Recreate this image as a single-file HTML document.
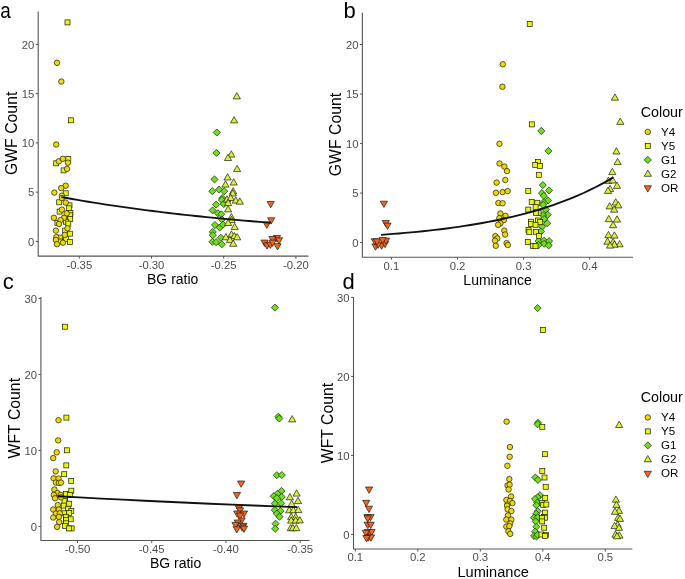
<!DOCTYPE html>
<html><head><meta charset="utf-8"><title>Figure</title>
<style>
html,body{margin:0;padding:0;background:#fff;}
body{width:685px;height:579px;overflow:hidden;}
svg{display:block;}
text{font-family:"Liberation Sans",sans-serif;}
svg{will-change:transform;}
.tk{font-size:11.3px;fill:#4d4d4d;}
.xt{font-size:14px;fill:#000;}
.yt{font-size:15.8px;fill:#000;}
.pl{font-size:22px;fill:#000;}
.lt{font-size:14.3px;fill:#000;stroke:none;}
.lg{font-size:11.6px;fill:#000;stroke:none;}
</style></head>
<body>
<svg width="685" height="579" viewBox="0 0 685 579">
<rect width="685" height="579" fill="#fff"/>
<path d="M38.2 11.4V256.1H308.4" fill="none" stroke="#555" stroke-width="1.1"/>
<line x1="35.7" y1="241.4" x2="38.2" y2="241.4" stroke="#555" stroke-width="1"/>
<text x="34.3" y="245.6" text-anchor="end" class="tk">0</text>
<line x1="35.7" y1="192.15" x2="38.2" y2="192.15" stroke="#555" stroke-width="1"/>
<text x="34.3" y="196.35" text-anchor="end" class="tk">5</text>
<line x1="35.7" y1="142.9" x2="38.2" y2="142.9" stroke="#555" stroke-width="1"/>
<text x="34.3" y="147.1" text-anchor="end" class="tk">10</text>
<line x1="35.7" y1="93.65" x2="38.2" y2="93.65" stroke="#555" stroke-width="1"/>
<text x="34.3" y="97.85" text-anchor="end" class="tk">15</text>
<line x1="35.7" y1="44.4" x2="38.2" y2="44.4" stroke="#555" stroke-width="1"/>
<text x="34.3" y="48.6" text-anchor="end" class="tk">20</text>
<line x1="79.3" y1="256.1" x2="79.3" y2="258.6" stroke="#555" stroke-width="1"/>
<text x="79.3" y="268.5" text-anchor="middle" class="tk">-0.35</text>
<line x1="151.5" y1="256.1" x2="151.5" y2="258.6" stroke="#555" stroke-width="1"/>
<text x="151.5" y="268.5" text-anchor="middle" class="tk">-0.30</text>
<line x1="223.7" y1="256.1" x2="223.7" y2="258.6" stroke="#555" stroke-width="1"/>
<text x="223.7" y="268.5" text-anchor="middle" class="tk">-0.25</text>
<line x1="295.9" y1="256.1" x2="295.9" y2="258.6" stroke="#555" stroke-width="1"/>
<text x="295.9" y="268.5" text-anchor="middle" class="tk">-0.20</text>
<g stroke="#1a1a1a" stroke-width="0.7"><polygon points="216.8,128.95 220.35,132.5 216.8,136.05 213.25,132.5" fill="#6CE314"/>
<polygon points="216.4,149.45 219.95,153 216.4,156.55 212.85,153" fill="#6CE314"/>
<polygon points="214.5,175.85 218.05,179.4 214.5,182.95 210.95,179.4" fill="#6CE314"/>
<polygon points="212.3,187.65 215.85,191.2 212.3,194.75 208.75,191.2" fill="#6CE314"/>
<polygon points="219.2,185.95 222.75,189.5 219.2,193.05 215.65,189.5" fill="#6CE314"/>
<polygon points="224.2,187.65 227.75,191.2 224.2,194.75 220.65,191.2" fill="#6CE314"/>
<polygon points="222.3,194.55 225.85,198.1 222.3,201.65 218.75,198.1" fill="#6CE314"/>
<polygon points="221.9,196.45 225.45,200 221.9,203.55 218.35,200" fill="#6CE314"/>
<polygon points="216.1,201.05 219.65,204.6 216.1,208.15 212.55,204.6" fill="#6CE314"/>
<polygon points="223.7,200.55 227.25,204.1 223.7,207.65 220.15,204.1" fill="#6CE314"/>
<polygon points="212.6,206.85 216.15,210.4 212.6,213.95 209.05,210.4" fill="#6CE314"/>
<polygon points="217.9,209.75 221.45,213.3 217.9,216.85 214.35,213.3" fill="#6CE314"/>
<polygon points="221.3,210.75 224.85,214.3 221.3,217.85 217.75,214.3" fill="#6CE314"/>
<polygon points="221.9,215.95 225.45,219.5 221.9,223.05 218.35,219.5" fill="#6CE314"/>
<polygon points="215,221.45 218.55,225 215,228.55 211.45,225" fill="#6CE314"/>
<polygon points="219.7,223.95 223.25,227.5 219.7,231.05 216.15,227.5" fill="#6CE314"/>
<polygon points="223,221.05 226.55,224.6 223,228.15 219.45,224.6" fill="#6CE314"/>
<polygon points="212.8,228.35 216.35,231.9 212.8,235.45 209.25,231.9" fill="#6CE314"/>
<polygon points="212.8,231.65 216.35,235.2 212.8,238.75 209.25,235.2" fill="#6CE314"/>
<polygon points="220.8,234.15 224.35,237.7 220.8,241.25 217.25,237.7" fill="#6CE314"/>
<polygon points="212.4,238.25 215.95,241.8 212.4,245.35 208.85,241.8" fill="#6CE314"/>
<polygon points="216.1,238.55 219.65,242.1 216.1,245.65 212.55,242.1" fill="#6CE314"/>
<polygon points="221.9,240.75 225.45,244.3 221.9,247.85 218.35,244.3" fill="#6CE314"/>
<polygon points="236.8,92.6 240.4,98.9 233.2,98.9" fill="#DAF235"/>
<polygon points="234.1,116.6 237.7,122.9 230.5,122.9" fill="#DAF235"/>
<polygon points="231.3,150.8 234.9,157.1 227.7,157.1" fill="#DAF235"/>
<polygon points="228,154.2 231.6,160.5 224.4,160.5" fill="#DAF235"/>
<polygon points="237.1,165.3 240.7,171.6 233.5,171.6" fill="#DAF235"/>
<polygon points="227.6,173.7 231.2,180 224,180" fill="#DAF235"/>
<polygon points="233.7,178.7 237.3,185 230.1,185" fill="#DAF235"/>
<polygon points="225.5,180.8 229.1,187.1 221.9,187.1" fill="#DAF235"/>
<polygon points="233.2,187.7 236.8,194 229.6,194" fill="#DAF235"/>
<polygon points="232.8,189.7 236.4,196 229.2,196" fill="#DAF235"/>
<polygon points="227,195.7 230.6,202 223.4,202" fill="#DAF235"/>
<polygon points="230.7,194.2 234.3,200.5 227.1,200.5" fill="#DAF235"/>
<polygon points="235.8,196.8 239.4,203.1 232.2,203.1" fill="#DAF235"/>
<polygon points="239.8,197.9 243.4,204.2 236.2,204.2" fill="#DAF235"/>
<polygon points="228.1,199.3 231.7,205.6 224.5,205.6" fill="#DAF235"/>
<polygon points="228.1,205.6 231.7,211.9 224.5,211.9" fill="#DAF235"/>
<polygon points="231.4,213.5 235,219.8 227.8,219.8" fill="#DAF235"/>
<polygon points="231.6,216.3 235.2,222.6 228,222.6" fill="#DAF235"/>
<polygon points="228.1,219.2 231.7,225.5 224.5,225.5" fill="#DAF235"/>
<polygon points="234.7,223.3 238.3,229.6 231.1,229.6" fill="#DAF235"/>
<polygon points="225.9,233.5 229.5,239.8 222.3,239.8" fill="#DAF235"/>
<polygon points="231.4,230.9 235,237.2 227.8,237.2" fill="#DAF235"/>
<polygon points="234.3,232.4 237.9,238.7 230.7,238.7" fill="#DAF235"/>
<polygon points="237.2,233.5 240.8,239.8 233.6,239.8" fill="#DAF235"/>
<polygon points="229.9,236.4 233.5,242.7 226.3,242.7" fill="#DAF235"/>
<polygon points="233.2,240 236.8,246.3 229.6,246.3" fill="#DAF235"/>
<polygon points="270.7,207.8 274.3,201.5 267.1,201.5" fill="#F6651E"/>
<polygon points="271.2,224.1 274.8,217.8 267.6,217.8" fill="#F6651E"/>
<polygon points="266.8,228.4 270.4,222.1 263.2,222.1" fill="#F6651E"/>
<polygon points="276.9,241.8 280.5,235.5 273.3,235.5" fill="#F6651E"/>
<polygon points="272.4,242.8 276,236.5 268.8,236.5" fill="#F6651E"/>
<polygon points="279,244.1 282.6,237.8 275.4,237.8" fill="#F6651E"/>
<polygon points="264.5,246.4 268.1,240.1 260.9,240.1" fill="#F6651E"/>
<polygon points="267,249.2 270.6,242.9 263.4,242.9" fill="#F6651E"/>
<polygon points="270.3,248.4 273.9,242.1 266.7,242.1" fill="#F6651E"/>
<polygon points="277.5,250 281.1,243.7 273.9,243.7" fill="#F6651E"/>
<polygon points="272.6,246.4 276.2,240.1 269,240.1" fill="#F6651E"/>
<rect x="65" y="19.9" width="5" height="5" fill="#E9FA00"/>
<rect x="68.5" y="117.8" width="5" height="5" fill="#E9FA00"/>
<rect x="53.7" y="160.8" width="5" height="5" fill="#E9FA00"/>
<rect x="65.8" y="156.4" width="5" height="5" fill="#E9FA00"/>
<rect x="61.1" y="167.9" width="5" height="5" fill="#E9FA00"/>
<rect x="63.2" y="190.8" width="5" height="5" fill="#E9FA00"/>
<rect x="56.7" y="199.8" width="5" height="5" fill="#E9FA00"/>
<rect x="67" y="202.9" width="5" height="5" fill="#E9FA00"/>
<rect x="66.3" y="205.8" width="5" height="5" fill="#E9FA00"/>
<rect x="57.1" y="209.1" width="5" height="5" fill="#E9FA00"/>
<rect x="67.9" y="210.5" width="5" height="5" fill="#E9FA00"/>
<rect x="67.7" y="212.8" width="5" height="5" fill="#E9FA00"/>
<rect x="67.7" y="216.5" width="5" height="5" fill="#E9FA00"/>
<rect x="54.9" y="220.4" width="5" height="5" fill="#E9FA00"/>
<rect x="63.5" y="219.2" width="5" height="5" fill="#E9FA00"/>
<rect x="65.8" y="221.1" width="5" height="5" fill="#E9FA00"/>
<rect x="62.7" y="228.1" width="5" height="5" fill="#E9FA00"/>
<rect x="67.4" y="231.2" width="5" height="5" fill="#E9FA00"/>
<rect x="57.3" y="235.1" width="5" height="5" fill="#E9FA00"/>
<rect x="63.5" y="236.7" width="5" height="5" fill="#E9FA00"/>
<rect x="67.4" y="239.6" width="5" height="5" fill="#E9FA00"/>
<rect x="57.3" y="239" width="5" height="5" fill="#E9FA00"/>
<circle cx="57" cy="62.8" r="2.75" fill="#EFD900"/>
<circle cx="61.3" cy="81.6" r="2.75" fill="#EFD900"/>
<circle cx="56.2" cy="144.5" r="2.75" fill="#EFD900"/>
<circle cx="58.8" cy="161.3" r="2.75" fill="#EFD900"/>
<circle cx="62.9" cy="158.8" r="2.75" fill="#EFD900"/>
<circle cx="67.9" cy="162.7" r="2.75" fill="#EFD900"/>
<circle cx="67" cy="168.9" r="2.75" fill="#EFD900"/>
<circle cx="65.7" cy="185.7" r="2.75" fill="#EFD900"/>
<circle cx="61.2" cy="188.1" r="2.75" fill="#EFD900"/>
<circle cx="54.3" cy="192.6" r="2.75" fill="#EFD900"/>
<circle cx="61.9" cy="195.7" r="2.75" fill="#EFD900"/>
<circle cx="61.9" cy="198.1" r="2.75" fill="#EFD900"/>
<circle cx="65.7" cy="202.6" r="2.75" fill="#EFD900"/>
<circle cx="61.9" cy="209.6" r="2.75" fill="#EFD900"/>
<circle cx="66.7" cy="213.4" r="2.75" fill="#EFD900"/>
<circle cx="53.9" cy="217.8" r="2.75" fill="#EFD900"/>
<circle cx="64" cy="217.8" r="2.75" fill="#EFD900"/>
<circle cx="60.5" cy="220.1" r="2.75" fill="#EFD900"/>
<circle cx="59" cy="224" r="2.75" fill="#EFD900"/>
<circle cx="67.5" cy="228.3" r="2.75" fill="#EFD900"/>
<circle cx="55.9" cy="230.6" r="2.75" fill="#EFD900"/>
<circle cx="64.8" cy="234.9" r="2.75" fill="#EFD900"/>
<circle cx="56.3" cy="237.2" r="2.75" fill="#EFD900"/>
<circle cx="55.9" cy="240" r="2.75" fill="#EFD900"/>
<circle cx="62.9" cy="242.7" r="2.75" fill="#EFD900"/>
<circle cx="57" cy="244.2" r="2.75" fill="#EFD900"/></g>
<polyline points="61.4,197.06 66.77,198.03 72.14,198.99 77.51,199.92 82.88,200.83 88.25,201.72 93.62,202.6 98.98,203.45 104.35,204.29 109.72,205.1 115.09,205.9 120.46,206.68 125.83,207.44 131.2,208.19 136.57,208.92 141.94,209.64 147.31,210.34 152.68,211.02 158.05,211.69 163.42,212.34 168.78,212.98 174.15,213.6 179.52,214.22 184.89,214.81 190.26,215.4 195.63,215.97 201,216.53 206.37,217.08 211.74,217.61 217.11,218.14 222.48,218.65 227.85,219.15 233.22,219.64 238.58,220.12 243.95,220.58 249.32,221.04 254.69,221.49 260.06,221.93 265.43,222.36 270.8,222.78" fill="none" stroke="#111" stroke-width="1.85" stroke-linejoin="round" stroke-linecap="butt"/>
<text x="172.7" y="283.5" text-anchor="middle" class="xt">BG ratio</text>
<text transform="translate(17 133.4) rotate(-90)" text-anchor="middle" class="yt">GWF Count</text>
<text x="0" y="17.7" class="pl" transform="translate(0.2 0) scale(0.86 1)">a</text>
<path d="M362.4 12.7V257.2H633" fill="none" stroke="#555" stroke-width="1.1"/>
<line x1="359.9" y1="242.6" x2="362.4" y2="242.6" stroke="#555" stroke-width="1"/>
<text x="358.5" y="246.8" text-anchor="end" class="tk">0</text>
<line x1="359.9" y1="193.07" x2="362.4" y2="193.07" stroke="#555" stroke-width="1"/>
<text x="358.5" y="197.27" text-anchor="end" class="tk">5</text>
<line x1="359.9" y1="143.55" x2="362.4" y2="143.55" stroke="#555" stroke-width="1"/>
<text x="358.5" y="147.75" text-anchor="end" class="tk">10</text>
<line x1="359.9" y1="94.03" x2="362.4" y2="94.03" stroke="#555" stroke-width="1"/>
<text x="358.5" y="98.23" text-anchor="end" class="tk">15</text>
<line x1="359.9" y1="44.5" x2="362.4" y2="44.5" stroke="#555" stroke-width="1"/>
<text x="358.5" y="48.7" text-anchor="end" class="tk">20</text>
<line x1="391.4" y1="257.2" x2="391.4" y2="259.7" stroke="#555" stroke-width="1"/>
<text x="391.4" y="269.6" text-anchor="middle" class="tk">0.1</text>
<line x1="457.5" y1="257.2" x2="457.5" y2="259.7" stroke="#555" stroke-width="1"/>
<text x="457.5" y="269.6" text-anchor="middle" class="tk">0.2</text>
<line x1="523.6" y1="257.2" x2="523.6" y2="259.7" stroke="#555" stroke-width="1"/>
<text x="523.6" y="269.6" text-anchor="middle" class="tk">0.3</text>
<line x1="589.7" y1="257.2" x2="589.7" y2="259.7" stroke="#555" stroke-width="1"/>
<text x="589.7" y="269.6" text-anchor="middle" class="tk">0.4</text>
<g stroke="#1a1a1a" stroke-width="0.7"><polygon points="541.3,127.35 544.85,130.9 541.3,134.45 537.75,130.9" fill="#6CE314"/>
<polygon points="548.4,147.35 551.95,150.9 548.4,154.45 544.85,150.9" fill="#6CE314"/>
<polygon points="542.8,181.55 546.35,185.1 542.8,188.65 539.25,185.1" fill="#6CE314"/>
<polygon points="549,186.85 552.55,190.4 549,193.95 545.45,190.4" fill="#6CE314"/>
<polygon points="542,189.55 545.55,193.1 542,196.65 538.45,193.1" fill="#6CE314"/>
<polygon points="543.8,192.35 547.35,195.9 543.8,199.45 540.25,195.9" fill="#6CE314"/>
<polygon points="548,196.85 551.55,200.4 548,203.95 544.45,200.4" fill="#6CE314"/>
<polygon points="543.5,198.95 547.05,202.5 543.5,206.05 539.95,202.5" fill="#6CE314"/>
<polygon points="543.1,201.35 546.65,204.9 543.1,208.45 539.55,204.9" fill="#6CE314"/>
<polygon points="545.8,206.05 549.35,209.6 545.8,213.15 542.25,209.6" fill="#6CE314"/>
<polygon points="547.6,211.15 551.15,214.7 547.6,218.25 544.05,214.7" fill="#6CE314"/>
<polygon points="542.9,211.55 546.45,215.1 542.9,218.65 539.35,215.1" fill="#6CE314"/>
<polygon points="544.1,215.45 547.65,219 544.1,222.55 540.55,219" fill="#6CE314"/>
<polygon points="547.2,219.75 550.75,223.3 547.2,226.85 543.65,223.3" fill="#6CE314"/>
<polygon points="542.1,223.15 545.65,226.7 542.1,230.25 538.55,226.7" fill="#6CE314"/>
<polygon points="541,227.85 544.55,231.4 541,234.95 537.45,231.4" fill="#6CE314"/>
<polygon points="538.6,237.55 542.15,241.1 538.6,244.65 535.05,241.1" fill="#6CE314"/>
<polygon points="544.1,237.15 547.65,240.7 544.1,244.25 540.55,240.7" fill="#6CE314"/>
<polygon points="549.1,237.55 552.65,241.1 549.1,244.65 545.55,241.1" fill="#6CE314"/>
<polygon points="544.1,240.25 547.65,243.8 544.1,247.35 540.55,243.8" fill="#6CE314"/>
<polygon points="548.7,241.85 552.25,245.4 548.7,248.95 545.15,245.4" fill="#6CE314"/>
<polygon points="538.6,241.45 542.15,245 538.6,248.55 535.05,245" fill="#6CE314"/>
<polygon points="614.9,93.9 618.5,100.2 611.3,100.2" fill="#DAF235"/>
<polygon points="620.3,118.1 623.9,124.4 616.7,124.4" fill="#DAF235"/>
<polygon points="616.4,147.7 620,154 612.8,154" fill="#DAF235"/>
<polygon points="617.6,158.3 621.2,164.6 614,164.6" fill="#DAF235"/>
<polygon points="612.3,168.3 615.9,174.6 608.7,174.6" fill="#DAF235"/>
<polygon points="608.4,177.1 612,183.4 604.8,183.4" fill="#DAF235"/>
<polygon points="612.7,176.7 616.3,183 609.1,183" fill="#DAF235"/>
<polygon points="617,182.1 620.6,188.4 613.4,188.4" fill="#DAF235"/>
<polygon points="610.1,185.3 613.7,191.6 606.5,191.6" fill="#DAF235"/>
<polygon points="608,187.1 611.6,193.4 604.4,193.4" fill="#DAF235"/>
<polygon points="615.7,198.7 619.3,205 612.1,205" fill="#DAF235"/>
<polygon points="609.7,202.6 613.3,208.9 606.1,208.9" fill="#DAF235"/>
<polygon points="618.3,201.6 621.9,207.9 614.7,207.9" fill="#DAF235"/>
<polygon points="614.2,205.9 617.8,212.2 610.6,212.2" fill="#DAF235"/>
<polygon points="608.8,215.4 612.4,221.7 605.2,221.7" fill="#DAF235"/>
<polygon points="617,215.8 620.6,222.1 613.4,222.1" fill="#DAF235"/>
<polygon points="613.1,221.4 616.7,227.7 609.5,227.7" fill="#DAF235"/>
<polygon points="608.4,231.4 612,237.7 604.8,237.7" fill="#DAF235"/>
<polygon points="614.4,231.8 618,238.1 610.8,238.1" fill="#DAF235"/>
<polygon points="607.5,237.9 611.1,244.2 603.9,244.2" fill="#DAF235"/>
<polygon points="613.1,238.3 616.7,244.6 609.5,244.6" fill="#DAF235"/>
<polygon points="619.6,240.5 623.2,246.8 616,246.8" fill="#DAF235"/>
<polygon points="614.4,240.9 618,247.2 610.8,247.2" fill="#DAF235"/>
<polygon points="610.1,241.8 613.7,248.1 606.5,248.1" fill="#DAF235"/>
<polygon points="383.9,207.5 387.5,201.2 380.3,201.2" fill="#F6651E"/>
<polygon points="385.8,226.8 389.4,220.5 382.2,220.5" fill="#F6651E"/>
<polygon points="387.5,229.4 391.1,223.1 383.9,223.1" fill="#F6651E"/>
<polygon points="375.5,250.2 379.1,243.9 371.9,243.9" fill="#F6651E"/>
<polygon points="381.6,249.3 385.2,243 378,243" fill="#F6651E"/>
<polygon points="378,248.4 381.6,242.1 374.4,242.1" fill="#F6651E"/>
<polygon points="385,247.7 388.6,241.4 381.4,241.4" fill="#F6651E"/>
<polygon points="374.8,245 378.4,238.7 371.2,238.7" fill="#F6651E"/>
<polygon points="377,245.2 380.6,238.9 373.4,238.9" fill="#F6651E"/>
<polygon points="386,244.4 389.6,238.1 382.4,238.1" fill="#F6651E"/>
<polygon points="382.6,243.9 386.2,237.6 379,237.6" fill="#F6651E"/>
<rect x="527.2" y="21.4" width="5" height="5" fill="#E9FA00"/>
<rect x="529.3" y="121.9" width="5" height="5" fill="#E9FA00"/>
<rect x="535.5" y="159.4" width="5" height="5" fill="#E9FA00"/>
<rect x="532.7" y="162.5" width="5" height="5" fill="#E9FA00"/>
<rect x="537.6" y="163.6" width="5" height="5" fill="#E9FA00"/>
<rect x="536.3" y="172.3" width="5" height="5" fill="#E9FA00"/>
<rect x="525.8" y="188.6" width="5" height="5" fill="#E9FA00"/>
<rect x="529.2" y="199.6" width="5" height="5" fill="#E9FA00"/>
<rect x="534.8" y="200.3" width="5" height="5" fill="#E9FA00"/>
<rect x="533.1" y="204.5" width="5" height="5" fill="#E9FA00"/>
<rect x="525.8" y="207.1" width="5" height="5" fill="#E9FA00"/>
<rect x="536.1" y="210.3" width="5" height="5" fill="#E9FA00"/>
<rect x="533.4" y="210.3" width="5" height="5" fill="#E9FA00"/>
<rect x="535.4" y="218" width="5" height="5" fill="#E9FA00"/>
<rect x="537.7" y="219.6" width="5" height="5" fill="#E9FA00"/>
<rect x="528.4" y="219.2" width="5" height="5" fill="#E9FA00"/>
<rect x="528.4" y="221.5" width="5" height="5" fill="#E9FA00"/>
<rect x="533" y="222.3" width="5" height="5" fill="#E9FA00"/>
<rect x="526" y="227.4" width="5" height="5" fill="#E9FA00"/>
<rect x="526.8" y="229.7" width="5" height="5" fill="#E9FA00"/>
<rect x="533.4" y="229.3" width="5" height="5" fill="#E9FA00"/>
<rect x="536.5" y="233.6" width="5" height="5" fill="#E9FA00"/>
<rect x="525.3" y="239.4" width="5" height="5" fill="#E9FA00"/>
<rect x="530.3" y="243.3" width="5" height="5" fill="#E9FA00"/>
<rect x="533" y="243.7" width="5" height="5" fill="#E9FA00"/>
<circle cx="502.8" cy="64.3" r="2.75" fill="#EFD900"/>
<circle cx="502.4" cy="86.7" r="2.75" fill="#EFD900"/>
<circle cx="499.5" cy="143.8" r="2.75" fill="#EFD900"/>
<circle cx="499.5" cy="163.5" r="2.75" fill="#EFD900"/>
<circle cx="504.4" cy="166.6" r="2.75" fill="#EFD900"/>
<circle cx="507" cy="171.1" r="2.75" fill="#EFD900"/>
<circle cx="505.3" cy="180" r="2.75" fill="#EFD900"/>
<circle cx="496.6" cy="182.6" r="2.75" fill="#EFD900"/>
<circle cx="495.9" cy="192.8" r="2.75" fill="#EFD900"/>
<circle cx="502.6" cy="192.1" r="2.75" fill="#EFD900"/>
<circle cx="507.7" cy="191.1" r="2.75" fill="#EFD900"/>
<circle cx="498.4" cy="203" r="2.75" fill="#EFD900"/>
<circle cx="502.6" cy="203.3" r="2.75" fill="#EFD900"/>
<circle cx="500.4" cy="213.5" r="2.75" fill="#EFD900"/>
<circle cx="505.5" cy="215.9" r="2.75" fill="#EFD900"/>
<circle cx="499.3" cy="218.2" r="2.75" fill="#EFD900"/>
<circle cx="503.9" cy="220.1" r="2.75" fill="#EFD900"/>
<circle cx="500.4" cy="223.3" r="2.75" fill="#EFD900"/>
<circle cx="498.1" cy="224.8" r="2.75" fill="#EFD900"/>
<circle cx="504.3" cy="230.6" r="2.75" fill="#EFD900"/>
<circle cx="505.1" cy="234.5" r="2.75" fill="#EFD900"/>
<circle cx="495.4" cy="236.1" r="2.75" fill="#EFD900"/>
<circle cx="497.3" cy="238.4" r="2.75" fill="#EFD900"/>
<circle cx="495" cy="240.7" r="2.75" fill="#EFD900"/>
<circle cx="495.8" cy="245.8" r="2.75" fill="#EFD900"/>
<circle cx="506.6" cy="243.1" r="2.75" fill="#EFD900"/>
<circle cx="507.8" cy="245" r="2.75" fill="#EFD900"/></g>
<polyline points="381.1,234.85 387.05,234.41 393.01,233.95 398.96,233.47 404.92,232.95 410.87,232.41 416.82,231.84 422.78,231.24 428.73,230.6 434.68,229.93 440.64,229.22 446.59,228.47 452.55,227.67 458.5,226.83 464.45,225.95 470.41,225.01 476.36,224.03 482.32,222.99 488.27,221.88 494.22,220.72 500.18,219.49 506.13,218.2 512.08,216.83 518.04,215.38 523.99,213.86 529.95,212.24 535.9,210.54 541.85,208.74 547.81,206.84 553.76,204.83 559.72,202.71 565.67,200.47 571.62,198.11 577.58,195.61 583.53,192.98 589.48,190.19 595.44,187.25 601.39,184.14 607.35,180.86 613.3,177.4" fill="none" stroke="#111" stroke-width="1.85" stroke-linejoin="round" stroke-linecap="butt"/>
<text x="497.6" y="284.5" text-anchor="middle" class="xt">Luminance</text>
<text transform="translate(340.8 134.5) rotate(-90)" text-anchor="middle" class="yt">GWF Count</text>
<text x="343.6" y="17.7" class="pl">b</text>
<g stroke="#1a1a1a" stroke-width="0.7"><text x="640.7" y="116.7" class="lt">Colour</text>
<circle cx="647.8" cy="131.9" r="2.75" fill="#EFD900"/>
<text x="661" y="135.9" class="lg">Y4</text>
<rect x="645.3" y="143.4" width="5" height="5" fill="#E9FA00"/>
<text x="661" y="149.9" class="lg">Y5</text>
<polygon points="647.8,156.35 651.35,159.9 647.8,163.45 644.25,159.9" fill="#6CE314"/>
<text x="661" y="163.9" class="lg">G1</text>
<polygon points="647.8,170 651.4,176.3 644.2,176.3" fill="#DAF235"/>
<text x="661" y="177.9" class="lg">G2</text>
<polygon points="647.8,192.1 651.4,185.8 644.2,185.8" fill="#F6651E"/>
<text x="661" y="191.9" class="lg">OR</text></g>
<path d="M40.9 297.1V540.5H309.5" fill="none" stroke="#555" stroke-width="1.1"/>
<line x1="38.4" y1="526.4" x2="40.9" y2="526.4" stroke="#555" stroke-width="1"/>
<text x="37" y="530.6" text-anchor="end" class="tk">0</text>
<line x1="38.4" y1="450.4" x2="40.9" y2="450.4" stroke="#555" stroke-width="1"/>
<text x="37" y="454.6" text-anchor="end" class="tk">10</text>
<line x1="38.4" y1="374.4" x2="40.9" y2="374.4" stroke="#555" stroke-width="1"/>
<text x="37" y="378.6" text-anchor="end" class="tk">20</text>
<line x1="38.4" y1="298.4" x2="40.9" y2="298.4" stroke="#555" stroke-width="1"/>
<text x="37" y="302.6" text-anchor="end" class="tk">30</text>
<line x1="77.5" y1="540.5" x2="77.5" y2="543" stroke="#555" stroke-width="1"/>
<text x="77.5" y="552.9" text-anchor="middle" class="tk">-0.50</text>
<line x1="151.73" y1="540.5" x2="151.73" y2="543" stroke="#555" stroke-width="1"/>
<text x="151.73" y="552.9" text-anchor="middle" class="tk">-0.45</text>
<line x1="225.96" y1="540.5" x2="225.96" y2="543" stroke="#555" stroke-width="1"/>
<text x="225.96" y="552.9" text-anchor="middle" class="tk">-0.40</text>
<line x1="300.19" y1="540.5" x2="300.19" y2="543" stroke="#555" stroke-width="1"/>
<text x="300.19" y="552.9" text-anchor="middle" class="tk">-0.35</text>
<g stroke="#1a1a1a" stroke-width="0.7"><polygon points="274.9,304.05 278.45,307.6 274.9,311.15 271.35,307.6" fill="#6CE314"/>
<polygon points="278.3,413.15 281.85,416.7 278.3,420.25 274.75,416.7" fill="#6CE314"/>
<polygon points="279.3,414.95 282.85,418.5 279.3,422.05 275.75,418.5" fill="#6CE314"/>
<polygon points="276.8,471.65 280.35,475.2 276.8,478.75 273.25,475.2" fill="#6CE314"/>
<polygon points="281.8,471.45 285.35,475 281.8,478.55 278.25,475" fill="#6CE314"/>
<polygon points="281.5,487.35 285.05,490.9 281.5,494.45 277.95,490.9" fill="#6CE314"/>
<polygon points="277.5,490.15 281.05,493.7 277.5,497.25 273.95,493.7" fill="#6CE314"/>
<polygon points="273.8,492.55 277.35,496.1 273.8,499.65 270.25,496.1" fill="#6CE314"/>
<polygon points="281.7,493.35 285.25,496.9 281.7,500.45 278.15,496.9" fill="#6CE314"/>
<polygon points="276.8,494.65 280.35,498.2 276.8,501.75 273.25,498.2" fill="#6CE314"/>
<polygon points="274.8,499.95 278.35,503.5 274.8,507.05 271.25,503.5" fill="#6CE314"/>
<polygon points="281,499.65 284.55,503.2 281,506.75 277.45,503.2" fill="#6CE314"/>
<polygon points="274.8,506.55 278.35,510.1 274.8,513.65 271.25,510.1" fill="#6CE314"/>
<polygon points="280.6,507.35 284.15,510.9 280.6,514.45 277.05,510.9" fill="#6CE314"/>
<polygon points="276.8,510.05 280.35,513.6 276.8,517.15 273.25,513.6" fill="#6CE314"/>
<polygon points="279.5,513.15 283.05,516.7 279.5,520.25 275.95,516.7" fill="#6CE314"/>
<polygon points="275.6,520.15 279.15,523.7 275.6,527.25 272.05,523.7" fill="#6CE314"/>
<polygon points="275.2,525.25 278.75,528.8 275.2,532.35 271.65,528.8" fill="#6CE314"/>
<polygon points="292.2,415.6 295.8,421.9 288.6,421.9" fill="#DAF235"/>
<polygon points="296.6,489.8 300.2,496.1 293,496.1" fill="#DAF235"/>
<polygon points="289.9,493.5 293.5,499.8 286.3,499.8" fill="#DAF235"/>
<polygon points="298,497.3 301.6,503.6 294.4,503.6" fill="#DAF235"/>
<polygon points="291.7,500.3 295.3,506.6 288.1,506.6" fill="#DAF235"/>
<polygon points="289.2,506.5 292.8,512.8 285.6,512.8" fill="#DAF235"/>
<polygon points="293.4,506.5 297,512.8 289.8,512.8" fill="#DAF235"/>
<polygon points="298.3,506.3 301.9,512.6 294.7,512.6" fill="#DAF235"/>
<polygon points="291.2,513.3 294.8,519.6 287.6,519.6" fill="#DAF235"/>
<polygon points="295.7,513.3 299.3,519.6 292.1,519.6" fill="#DAF235"/>
<polygon points="291.2,516.8 294.8,523.1 287.6,523.1" fill="#DAF235"/>
<polygon points="295.7,516.8 299.3,523.1 292.1,523.1" fill="#DAF235"/>
<polygon points="299.8,516.6 303.4,522.9 296.2,522.9" fill="#DAF235"/>
<polygon points="290.8,524.4 294.4,530.7 287.2,530.7" fill="#DAF235"/>
<polygon points="292.9,524.4 296.5,530.7 289.3,530.7" fill="#DAF235"/>
<polygon points="296.3,524.4 299.9,530.7 292.7,530.7" fill="#DAF235"/>
<polygon points="241.1,487.3 244.7,481 237.5,481" fill="#F6651E"/>
<polygon points="236.9,498.8 240.5,492.5 233.3,492.5" fill="#F6651E"/>
<polygon points="238.9,512.1 242.5,505.8 235.3,505.8" fill="#F6651E"/>
<polygon points="240.1,514.2 243.7,507.9 236.5,507.9" fill="#F6651E"/>
<polygon points="237.2,517.3 240.8,511 233.6,511" fill="#F6651E"/>
<polygon points="244,517.3 247.6,511 240.4,511" fill="#F6651E"/>
<polygon points="240.1,519.4 243.7,513.1 236.5,513.1" fill="#F6651E"/>
<polygon points="241.6,524.2 245.2,517.9 238,517.9" fill="#F6651E"/>
<polygon points="237.7,526.3 241.3,520 234.1,520" fill="#F6651E"/>
<polygon points="235.5,528.7 239.1,522.4 231.9,522.4" fill="#F6651E"/>
<polygon points="243.4,529.6 247,523.3 239.8,523.3" fill="#F6651E"/>
<polygon points="242.2,531.2 245.8,524.9 238.6,524.9" fill="#F6651E"/>
<polygon points="236.8,533 240.4,526.7 233.2,526.7" fill="#F6651E"/>
<polygon points="244,532.4 247.6,526.1 240.4,526.1" fill="#F6651E"/>
<rect x="62.5" y="324.2" width="5" height="5" fill="#E9FA00"/>
<rect x="63.9" y="415.1" width="5" height="5" fill="#E9FA00"/>
<rect x="64.5" y="447.8" width="5" height="5" fill="#E9FA00"/>
<rect x="63.8" y="462.9" width="5" height="5" fill="#E9FA00"/>
<rect x="61.7" y="471.7" width="5" height="5" fill="#E9FA00"/>
<rect x="68.7" y="478.4" width="5" height="5" fill="#E9FA00"/>
<rect x="68.8" y="488.2" width="5" height="5" fill="#E9FA00"/>
<rect x="63.3" y="491.5" width="5" height="5" fill="#E9FA00"/>
<rect x="67.3" y="492.4" width="5" height="5" fill="#E9FA00"/>
<rect x="62.7" y="496.7" width="5" height="5" fill="#E9FA00"/>
<rect x="62" y="498.3" width="5" height="5" fill="#E9FA00"/>
<rect x="66.7" y="501.2" width="5" height="5" fill="#E9FA00"/>
<rect x="61.2" y="503.1" width="5" height="5" fill="#E9FA00"/>
<rect x="65.5" y="506.3" width="5" height="5" fill="#E9FA00"/>
<rect x="68.8" y="508.4" width="5" height="5" fill="#E9FA00"/>
<rect x="61.8" y="510.8" width="5" height="5" fill="#E9FA00"/>
<rect x="66.7" y="510.5" width="5" height="5" fill="#E9FA00"/>
<rect x="63.3" y="514.4" width="5" height="5" fill="#E9FA00"/>
<rect x="68.2" y="516.8" width="5" height="5" fill="#E9FA00"/>
<rect x="63.6" y="517.4" width="5" height="5" fill="#E9FA00"/>
<rect x="63.6" y="520.8" width="5" height="5" fill="#E9FA00"/>
<rect x="62.4" y="523.5" width="5" height="5" fill="#E9FA00"/>
<rect x="69.1" y="525.9" width="5" height="5" fill="#E9FA00"/>
<rect x="66.4" y="525.9" width="5" height="5" fill="#E9FA00"/>
<circle cx="58.5" cy="420.2" r="2.75" fill="#EFD900"/>
<circle cx="58.1" cy="440.4" r="2.75" fill="#EFD900"/>
<circle cx="56.7" cy="452.3" r="2.75" fill="#EFD900"/>
<circle cx="53.2" cy="458.1" r="2.75" fill="#EFD900"/>
<circle cx="55.7" cy="471.4" r="2.75" fill="#EFD900"/>
<circle cx="53.6" cy="478.3" r="2.75" fill="#EFD900"/>
<circle cx="58.5" cy="478.5" r="2.75" fill="#EFD900"/>
<circle cx="55.9" cy="482.6" r="2.75" fill="#EFD900"/>
<circle cx="58.9" cy="482.9" r="2.75" fill="#EFD900"/>
<circle cx="61" cy="482.6" r="2.75" fill="#EFD900"/>
<circle cx="54.4" cy="489.5" r="2.75" fill="#EFD900"/>
<circle cx="57.4" cy="493.1" r="2.75" fill="#EFD900"/>
<circle cx="53.8" cy="494.9" r="2.75" fill="#EFD900"/>
<circle cx="60.7" cy="494.9" r="2.75" fill="#EFD900"/>
<circle cx="55" cy="498.3" r="2.75" fill="#EFD900"/>
<circle cx="61" cy="497.4" r="2.75" fill="#EFD900"/>
<circle cx="57.8" cy="505.1" r="2.75" fill="#EFD900"/>
<circle cx="53.2" cy="509.5" r="2.75" fill="#EFD900"/>
<circle cx="58.9" cy="509.5" r="2.75" fill="#EFD900"/>
<circle cx="55.9" cy="513.6" r="2.75" fill="#EFD900"/>
<circle cx="59.8" cy="513.3" r="2.75" fill="#EFD900"/>
<circle cx="53.2" cy="517.5" r="2.75" fill="#EFD900"/>
<circle cx="58.9" cy="516.9" r="2.75" fill="#EFD900"/>
<circle cx="59.2" cy="522.1" r="2.75" fill="#EFD900"/>
<circle cx="57.1" cy="526.9" r="2.75" fill="#EFD900"/></g>
<polyline points="57.6,496.22 79.38,497.43 101.16,498.58 122.95,499.69 144.73,500.76 166.51,501.78 188.29,502.76 210.07,503.71 231.85,504.61 253.64,505.48 275.42,506.31 297.2,507.12" fill="none" stroke="#111" stroke-width="1.85" stroke-linejoin="round" stroke-linecap="butt"/>
<text x="175.6" y="567.6" text-anchor="middle" class="xt">BG ratio</text>
<text transform="translate(19.7 418.2) rotate(-90)" text-anchor="middle" class="yt">WFT Count</text>
<text x="2.8" y="289.2" class="pl">c</text>
<path d="M353.5 297.1V549H632.3" fill="none" stroke="#555" stroke-width="1.1"/>
<line x1="351" y1="534.4" x2="353.5" y2="534.4" stroke="#555" stroke-width="1"/>
<text x="349.6" y="538.6" text-anchor="end" class="tk">0</text>
<line x1="351" y1="455.4" x2="353.5" y2="455.4" stroke="#555" stroke-width="1"/>
<text x="349.6" y="459.6" text-anchor="end" class="tk">10</text>
<line x1="351" y1="376.4" x2="353.5" y2="376.4" stroke="#555" stroke-width="1"/>
<text x="349.6" y="380.6" text-anchor="end" class="tk">20</text>
<line x1="351" y1="297.4" x2="353.5" y2="297.4" stroke="#555" stroke-width="1"/>
<text x="349.6" y="301.6" text-anchor="end" class="tk">30</text>
<line x1="355.3" y1="549" x2="355.3" y2="551.5" stroke="#555" stroke-width="1"/>
<text x="355.3" y="561.4" text-anchor="middle" class="tk">0.1</text>
<line x1="417.8" y1="549" x2="417.8" y2="551.5" stroke="#555" stroke-width="1"/>
<text x="417.8" y="561.4" text-anchor="middle" class="tk">0.2</text>
<line x1="480.3" y1="549" x2="480.3" y2="551.5" stroke="#555" stroke-width="1"/>
<text x="480.3" y="561.4" text-anchor="middle" class="tk">0.3</text>
<line x1="542.8" y1="549" x2="542.8" y2="551.5" stroke="#555" stroke-width="1"/>
<text x="542.8" y="561.4" text-anchor="middle" class="tk">0.4</text>
<line x1="605.3" y1="549" x2="605.3" y2="551.5" stroke="#555" stroke-width="1"/>
<text x="605.3" y="561.4" text-anchor="middle" class="tk">0.5</text>
<g stroke="#1a1a1a" stroke-width="0.7"><polygon points="537.6,304.55 541.15,308.1 537.6,311.65 534.05,308.1" fill="#6CE314"/>
<polygon points="538,419.25 541.55,422.8 538,426.35 534.45,422.8" fill="#6CE314"/>
<polygon points="537.6,420.75 541.15,424.3 537.6,427.85 534.05,424.3" fill="#6CE314"/>
<polygon points="535.4,473.95 538.95,477.5 535.4,481.05 531.85,477.5" fill="#6CE314"/>
<polygon points="537.9,476.35 541.45,479.9 537.9,483.45 534.35,479.9" fill="#6CE314"/>
<polygon points="540,491.65 543.55,495.2 540,498.75 536.45,495.2" fill="#6CE314"/>
<polygon points="537.7,493.75 541.25,497.3 537.7,500.85 534.15,497.3" fill="#6CE314"/>
<polygon points="535,495.45 538.55,499 535,502.55 531.45,499" fill="#6CE314"/>
<polygon points="537.2,499.15 540.75,502.7 537.2,506.25 533.65,502.7" fill="#6CE314"/>
<polygon points="536.4,501.75 539.95,505.3 536.4,508.85 532.85,505.3" fill="#6CE314"/>
<polygon points="537.7,507.65 541.25,511.2 537.7,514.75 534.15,511.2" fill="#6CE314"/>
<polygon points="536.2,510.35 539.75,513.9 536.2,517.45 532.65,513.9" fill="#6CE314"/>
<polygon points="534.9,514.45 538.45,518 534.9,521.55 531.35,518" fill="#6CE314"/>
<polygon points="534,514.15 537.55,517.7 534,521.25 530.45,517.7" fill="#6CE314"/>
<polygon points="537.7,513.85 541.25,517.4 537.7,520.95 534.15,517.4" fill="#6CE314"/>
<polygon points="535.7,517.85 539.25,521.4 535.7,524.95 532.15,521.4" fill="#6CE314"/>
<polygon points="536.3,523.25 539.85,526.8 536.3,530.35 532.75,526.8" fill="#6CE314"/>
<polygon points="535.1,528.15 538.65,531.7 535.1,535.25 531.55,531.7" fill="#6CE314"/>
<polygon points="534,532.45 537.55,536 534,539.55 530.45,536" fill="#6CE314"/>
<polygon points="536.5,532.95 540.05,536.5 536.5,540.05 532.95,536.5" fill="#6CE314"/>
<polygon points="537.7,531.25 541.25,534.8 537.7,538.35 534.15,534.8" fill="#6CE314"/>
<polygon points="619.2,421.2 622.8,427.5 615.6,427.5" fill="#DAF235"/>
<polygon points="615.9,495.9 619.5,502.2 612.3,502.2" fill="#DAF235"/>
<polygon points="616.4,501.1 620,507.4 612.8,507.4" fill="#DAF235"/>
<polygon points="619,507.1 622.6,513.4 615.4,513.4" fill="#DAF235"/>
<polygon points="615,508 618.6,514.3 611.4,514.3" fill="#DAF235"/>
<polygon points="618.1,514.1 621.7,520.4 614.5,520.4" fill="#DAF235"/>
<polygon points="620,515.1 623.6,521.4 616.4,521.4" fill="#DAF235"/>
<polygon points="617.7,521 621.3,527.3 614.1,527.3" fill="#DAF235"/>
<polygon points="614.6,522.3 618.2,528.6 611,528.6" fill="#DAF235"/>
<polygon points="619,524.1 622.6,530.4 615.4,530.4" fill="#DAF235"/>
<polygon points="615.5,530.9 619.1,537.2 611.9,537.2" fill="#DAF235"/>
<polygon points="619.4,531.8 623,538.1 615.8,538.1" fill="#DAF235"/>
<polygon points="617,532.5 620.6,538.8 613.4,538.8" fill="#DAF235"/>
<polygon points="369.1,493.3 372.7,487 365.5,487" fill="#F6651E"/>
<polygon points="366.2,506.6 369.8,500.3 362.6,500.3" fill="#F6651E"/>
<polygon points="369,512.5 372.6,506.2 365.4,506.2" fill="#F6651E"/>
<polygon points="367.5,520.9 371.1,514.6 363.9,514.6" fill="#F6651E"/>
<polygon points="370.5,520.9 374.1,514.6 366.9,514.6" fill="#F6651E"/>
<polygon points="367.7,522.1 371.3,515.8 364.1,515.8" fill="#F6651E"/>
<polygon points="367.7,528.5 371.3,522.2 364.1,522.2" fill="#F6651E"/>
<polygon points="370.7,528.5 374.3,522.2 367.1,522.2" fill="#F6651E"/>
<polygon points="368,535.7 371.6,529.4 364.4,529.4" fill="#F6651E"/>
<polygon points="371.6,535.7 375.2,529.4 368,529.4" fill="#F6651E"/>
<polygon points="365.9,536.6 369.5,530.3 362.3,530.3" fill="#F6651E"/>
<polygon points="368.3,541.2 371.9,534.9 364.7,534.9" fill="#F6651E"/>
<polygon points="371,541.2 374.6,534.9 367.4,534.9" fill="#F6651E"/>
<polygon points="366.5,541.8 370.1,535.5 362.9,535.5" fill="#F6651E"/>
<rect x="540.5" y="327.6" width="5" height="5" fill="#E9FA00"/>
<rect x="539.8" y="424.3" width="5" height="5" fill="#E9FA00"/>
<rect x="542.4" y="451.7" width="5" height="5" fill="#E9FA00"/>
<rect x="539.8" y="468.4" width="5" height="5" fill="#E9FA00"/>
<rect x="542" y="475" width="5" height="5" fill="#E9FA00"/>
<rect x="543.2" y="484.3" width="5" height="5" fill="#E9FA00"/>
<rect x="542.7" y="495.3" width="5" height="5" fill="#E9FA00"/>
<rect x="539.4" y="500.7" width="5" height="5" fill="#E9FA00"/>
<rect x="540.7" y="502.5" width="5" height="5" fill="#E9FA00"/>
<rect x="543.8" y="502" width="5" height="5" fill="#E9FA00"/>
<rect x="542.4" y="510.1" width="5" height="5" fill="#E9FA00"/>
<rect x="541.4" y="514.4" width="5" height="5" fill="#E9FA00"/>
<rect x="542.6" y="515.2" width="5" height="5" fill="#E9FA00"/>
<rect x="539.6" y="515.5" width="5" height="5" fill="#E9FA00"/>
<rect x="539.7" y="518.9" width="5" height="5" fill="#E9FA00"/>
<rect x="541.7" y="525.2" width="5" height="5" fill="#E9FA00"/>
<rect x="538.9" y="532" width="5" height="5" fill="#E9FA00"/>
<rect x="543.5" y="532.3" width="5" height="5" fill="#E9FA00"/>
<rect x="542.6" y="533.5" width="5" height="5" fill="#E9FA00"/>
<circle cx="506.6" cy="421.6" r="2.75" fill="#EFD900"/>
<circle cx="509.9" cy="447" r="2.75" fill="#EFD900"/>
<circle cx="509.7" cy="456.8" r="2.75" fill="#EFD900"/>
<circle cx="507.4" cy="465.8" r="2.75" fill="#EFD900"/>
<circle cx="509.3" cy="479.1" r="2.75" fill="#EFD900"/>
<circle cx="507.5" cy="485.4" r="2.75" fill="#EFD900"/>
<circle cx="509.6" cy="484.7" r="2.75" fill="#EFD900"/>
<circle cx="508.6" cy="489.5" r="2.75" fill="#EFD900"/>
<circle cx="511" cy="496.5" r="2.75" fill="#EFD900"/>
<circle cx="506.4" cy="500" r="2.75" fill="#EFD900"/>
<circle cx="510" cy="501" r="2.75" fill="#EFD900"/>
<circle cx="512.4" cy="503.1" r="2.75" fill="#EFD900"/>
<circle cx="507.5" cy="504.5" r="2.75" fill="#EFD900"/>
<circle cx="507.1" cy="505.8" r="2.75" fill="#EFD900"/>
<circle cx="507.6" cy="509.3" r="2.75" fill="#EFD900"/>
<circle cx="511.4" cy="511" r="2.75" fill="#EFD900"/>
<circle cx="508" cy="515.3" r="2.75" fill="#EFD900"/>
<circle cx="506.3" cy="519.6" r="2.75" fill="#EFD900"/>
<circle cx="511.4" cy="519.6" r="2.75" fill="#EFD900"/>
<circle cx="510.2" cy="523.5" r="2.75" fill="#EFD900"/>
<circle cx="506.3" cy="526.5" r="2.75" fill="#EFD900"/>
<circle cx="509.3" cy="526.1" r="2.75" fill="#EFD900"/>
<circle cx="508.4" cy="531.3" r="2.75" fill="#EFD900"/>
<circle cx="510.2" cy="533.9" r="2.75" fill="#EFD900"/></g>
<text x="493.2" y="577.0" text-anchor="middle" class="xt" style="font-size:14.6px">Luminance</text>
<text transform="translate(333.3 423) rotate(-90)" text-anchor="middle" class="yt">WFT Count</text>
<text x="342.4" y="289.0" class="pl">d</text>
<g stroke="#1a1a1a" stroke-width="0.7"><text x="640.7" y="402" class="lt">Colour</text>
<circle cx="647.8" cy="417.4" r="2.75" fill="#EFD900"/>
<text x="661" y="421.4" class="lg">Y4</text>
<rect x="645.3" y="428.9" width="5" height="5" fill="#E9FA00"/>
<text x="661" y="435.4" class="lg">Y5</text>
<polygon points="647.8,441.85 651.35,445.4 647.8,448.95 644.25,445.4" fill="#6CE314"/>
<text x="661" y="449.4" class="lg">G1</text>
<polygon points="647.8,455.5 651.4,461.8 644.2,461.8" fill="#DAF235"/>
<text x="661" y="463.4" class="lg">G2</text>
<polygon points="647.8,477.6 651.4,471.3 644.2,471.3" fill="#F6651E"/>
<text x="661" y="477.4" class="lg">OR</text></g>
</svg>
</body></html>
